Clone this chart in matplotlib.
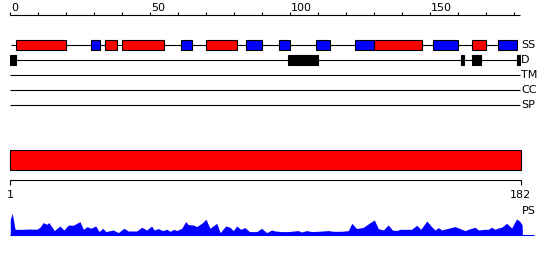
import matplotlib
matplotlib.use("Agg")
import matplotlib.pyplot as plt
from matplotlib.patches import Rectangle

LENGTH = 182
TRACKS = ["SS", "D", "TM", "CC", "SP"]

# secondary structure segments (start, end residue)
HELIX = [(2, 20), (34, 38), (40, 55), (70, 81), (130, 147), (165, 170)]
STRAND = [(29, 32), (61, 65), (84, 90), (96, 100), (109, 114), (123, 130), (151, 160), (174, 181)]
DISORDER = [(0, 2), (99, 110), (161, 162), (165, 168), (181, 182)]

# per-residue profile (PS)
PS_POS = [1.0, 1.7, 2.7, 5.6, 8.0, 10.4, 11.5, 12.7, 13.9, 14.7, 16.6, 18.6, 20.0, 21.6,
          23.3, 25.7, 26.9, 28.3, 29.5, 31.3, 32.5, 33.8, 34.9, 37.5, 39.3, 41.3, 42.8,
          45.8, 47.6, 49.4, 51.1, 52.0, 53.5, 55.0, 56.5, 57.6, 59.0, 60.0, 61.8, 63.2,
          64.1, 65.9, 67.1, 68.9, 70.4, 71.8, 74.2, 75.4, 77.4, 78.9, 80.1, 81.3, 82.7,
          84.2, 85.8, 88.4, 90.1, 91.9, 93.7, 94.9, 97.2, 99.6, 103.1, 104.3, 106.1,
          107.9, 110.2, 113.8, 115.5, 118.5, 120.9, 122.1, 123.8, 126.2, 128.6, 130.1,
          131.5, 133.3, 135.0, 136.5, 138.0, 139.2, 142.1, 143.3, 145.1, 146.6, 148.7,
          150.4, 151.6, 152.8, 154.0, 156.3, 158.7, 161.1, 162.3, 163.4, 165.8, 167.0,
          169.3, 170.5, 171.7, 172.9, 174.0, 175.2, 177.0, 178.8, 180.5, 181.7, 182.5, 182.6]
PS_VAL = [16.0, 22.0, 6.0, 6.0, 6.3, 6.0, 8.0, 12.7, 11.0, 12.7, 4.7, 9.3, 5.3, 10.3,
          10.0, 13.7, 6.0, 8.7, 7.0, 9.3, 3.7, 7.0, 3.7, 5.3, 2.7, 7.0, 4.3,
          4.3, 8.0, 5.3, 9.3, 5.3, 6.7, 4.7, 6.0, 4.0, 6.0, 4.7, 7.0, 13.7,
          10.7, 10.3, 8.7, 12.0, 16.0, 7.0, 12.0, 2.7, 9.3, 8.0, 4.7, 9.3, 6.0,
          7.7, 3.7, 3.7, 7.0, 2.7, 5.3, 4.3, 3.7, 3.7, 4.7, 3.3, 4.7,
          3.7, 4.0, 4.7, 4.0, 4.0, 4.7, 12.0, 6.7, 8.0, 12.7, 15.3,
          6.7, 5.3, 10.3, 5.3, 4.7, 6.0, 6.0, 6.0, 10.0, 6.0, 14.3,
          8.7, 5.3, 7.7, 5.3, 7.0, 8.7, 6.0, 4.7, 6.0, 8.0, 5.3,
          6.0, 6.0, 8.0, 6.0, 7.3, 8.0, 12.0, 7.3, 16.3, 14.0, 10.3, 0.0]

RED = "#ff0000"
BLUE = "#0000ff"
LW = 0.8

fig = plt.figure(figsize=(5.5, 2.6), dpi=100)

# ---- top panel: ruler + feature tracks
ax = fig.add_axes([0, 140 / 260, 1, 120 / 260])
ax.set_xlim(-10.3 / 2.8, 539.7 / 2.8)
ax.set_ylim(5, -3)
ax.axis("off")

ruler = -2
ax.hlines(ruler, 0, LENGTH, color="black", lw=LW)
ax.vlines(range(0, 181, 10), ruler - 0.2, ruler, color="black", lw=LW)
for t in range(0, 151, 50):
    ax.text(t + 0.2, ruler - 0.15, str(t), ha="left", va="bottom", fontsize=8)

for row, name in enumerate(TRACKS):
    end = 181 if name == "SS" else LENGTH
    start = 0.3 if name == "SS" else 0
    ax.hlines(row, start, end, color="black", lw=LW, zorder=1)
    ax.text(182.4, row, name, ha="left", va="center", fontsize=8)

for segs, colour in ((HELIX, RED), (STRAND, BLUE)):
    for s, e in segs:
        ax.add_patch(Rectangle((s, -0.34), e - s, 0.68, facecolor=colour,
                               edgecolor="black", lw=LW, zorder=2))
for s, e in DISORDER:
    ax.add_patch(Rectangle((s, 1 - 0.34), e - s, 0.68, facecolor="black",
                           edgecolor="black", lw=LW, zorder=2))

# ---- middle panel: full-length bar + ruler
pxr = 510.4 / 181
bx = fig.add_axes([0, 60 / 260, 1, 60 / 260])
bx.set_xlim(1 - 10.3 / pxr, 1 + 539.7 / pxr)
bx.set_ylim(60, 0)
bx.axis("off")
bx.barh(20.3, LENGTH - 1, left=1, height=20, color=RED, edgecolor="black", lw=LW)
bx.hlines(40.3, 1, LENGTH, color="black", lw=LW)
bx.vlines([1, LENGTH], 40.3, 45, color="black", lw=LW)
bx.text(1, 55.5, "1", ha="center", va="center", fontsize=8)
bx.text(LENGTH, 55.5, str(LENGTH), ha="center", va="center", fontsize=8)

# ---- bottom panel: PS profile
px = fig.add_axes([0, 0, 1, 60 / 260])
px.set_xlim(1 - 10.3 / pxr, 1 + 539.7 / pxr)
px.set_ylim(-24.7, 35.3)
px.axis("off")
px.fill_between(PS_POS, PS_VAL, 0, color=BLUE, lw=0)
px.hlines(0, 1, 186.7, color=BLUE, lw=LW)
px.text(182.3, 24.3, "PS", ha="left", va="center", fontsize=8)

fig.savefig("out.png", dpi=100)
